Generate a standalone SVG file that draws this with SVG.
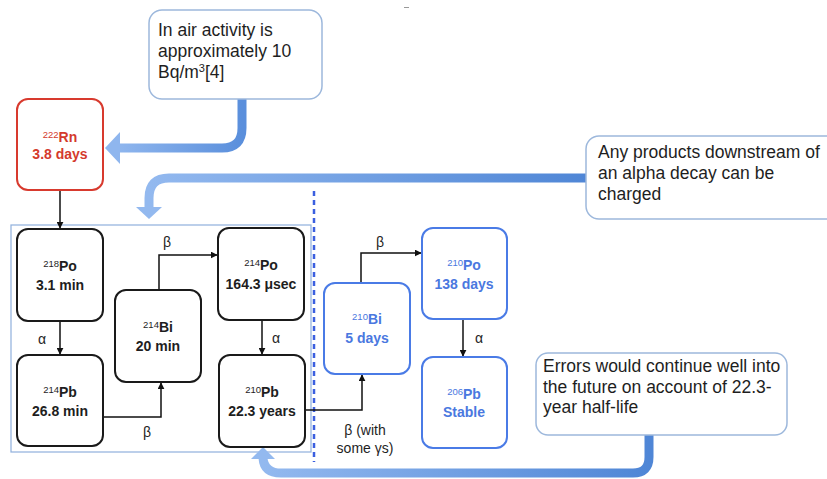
<svg xmlns="http://www.w3.org/2000/svg" width="827" height="479" viewBox="0 0 827 479">
<style>
text{font-family:"Liberation Sans",Arial,sans-serif;fill:#1e1e1e}
.nb{fill:#fff;stroke:#1a1a1a;stroke-width:2}
.nu{fill:#fff;stroke:#4a7be6;stroke-width:2}
.nr{fill:#fff;stroke:#d83a2e;stroke-width:2}
.nt{font-size:14px;font-weight:bold;text-anchor:middle}
.blue{fill:#4a78e0}
.red{fill:#d43a2c}
.sup{font-size:9.5px;font-weight:normal}
.co{fill:#fff;stroke:#9db8dc;stroke-width:1.5}
.ct{font-size:17.5px}
.ln{fill:none;stroke:#111;stroke-width:1.5}
.lb{font-size:14px;text-anchor:middle}
.big{fill:none;stroke-width:9}
</style>
<defs>
<marker id="ah" viewBox="0 0 10 10" refX="9" refY="5" markerWidth="7" markerHeight="7" markerUnits="userSpaceOnUse" orient="auto"><path d="M0,0 L10,5 L0,10 z" fill="#111"/></marker>
<linearGradient id="g1" x1="0" y1="0" x2="1" y2="0"><stop offset="0" stop-color="#8fb6ee"/><stop offset="1" stop-color="#5a8fdc"/></linearGradient>
<linearGradient id="g2" x1="0" y1="0" x2="1" y2="0"><stop offset="0" stop-color="#93b9ef"/><stop offset="1" stop-color="#4f86d6"/></linearGradient>
</defs>
<rect x="404" y="7" width="5" height="1" fill="#999"/>
<rect id="container" x="11" y="225" width="300" height="227" fill="none" stroke="#8fb0dc" stroke-width="1.2"/>
<line id="divider" x1="314" y1="191" x2="314" y2="462" stroke="#3b5fe0" stroke-width="2.5" stroke-dasharray="5,4"/>
<g id="connectors">
<line class="ln" x1="60" y1="190" x2="60" y2="228" marker-end="url(#ah)"/>
<line class="ln" x1="60" y1="321" x2="60" y2="354" marker-end="url(#ah)"/>
<path class="ln" d="M103 417 H161 V383" marker-end="url(#ah)"/>
<path class="ln" d="M159 290 V255 H217" marker-end="url(#ah)"/>
<line class="ln" x1="262" y1="320" x2="262" y2="354" marker-end="url(#ah)"/>
<path class="ln" d="M305 410 H362 V375" marker-end="url(#ah)"/>
<path class="ln" d="M361 283 V253 H421" marker-end="url(#ah)"/>
<line class="ln" x1="463" y1="319" x2="463" y2="356" marker-end="url(#ah)"/>
<text class="lb" x="42" y="344">α</text>
<text class="lb" x="147" y="437">β</text>
<text class="lb" x="167" y="247">β</text>
<text class="lb" x="276" y="343">α</text>
<text class="lb" x="380" y="247">β</text>
<text class="lb" x="479" y="343">α</text>
<text class="lb" x="365" y="435">β (with</text>
<text class="lb" x="365" y="453">some γs)</text>
<path class="big" stroke="url(#g1)" d="M242 99 V128 Q242 148 222 148 H118"/>
<polygon points="105,148 120,132 120,164" fill="#8fb6ee"/>
<path class="big" stroke="url(#g2)" stroke-width="8" d="M587 178 H169 Q149 178 149 198 V208"/>
<polygon points="136,207 162,207 149,219" fill="#93b9ef"/>
<path class="big" stroke="url(#g2)" stroke-width="8" d="M649 434 V457 Q649 473 633 473 H281 Q264 473 263 458"/>
<polygon points="251,459 275,459 263,447" fill="#93b9ef"/>
</g>
<g id="callout1"><rect class="co" x="149" y="10" width="173" height="89" rx="13"/>
<text class="ct" x="158" y="36">In air activity is</text>
<text class="ct" x="158" y="57">approximately 10</text>
<text class="ct" x="158" y="78">Bq/m<tspan font-size="11" dy="-6">3</tspan><tspan dy="6">[4]</tspan></text></g>
<g id="callout2"><rect class="co" x="586" y="136" width="260" height="83" rx="13"/>
<text class="ct" x="598" y="158">Any products downstream of</text>
<text class="ct" x="598" y="179">an alpha decay can be</text>
<text class="ct" x="598" y="200">charged</text></g>
<g id="callout3"><rect class="co" x="536" y="353" width="251" height="82" rx="12"/>
<text class="ct" x="543" y="372">Errors would continue well into</text>
<text class="ct" x="543" y="393">the future on account of 22.3-</text>
<text class="ct" x="543" y="413">year half-life</text></g>
<g id="rn222"><rect class="nr" x="17" y="99" width="86" height="91" rx="11"/>
<text class="nt red" x="60" y="142"><tspan class="sup" dy="-4">222</tspan><tspan dy="4">Rn</tspan></text>
<text class="nt red" x="60" y="159">3.8 days</text></g>
<g id="po218"><rect class="nb" x="17" y="229" width="86" height="92" rx="11"/>
<text class="nt" x="60" y="271"><tspan class="sup" dy="-4">218</tspan><tspan dy="4">Po</tspan></text>
<text class="nt" x="60" y="290">3.1 min</text></g>
<g id="pb214"><rect class="nb" x="17" y="355" width="86" height="91" rx="11"/>
<text class="nt" x="60" y="397"><tspan class="sup" dy="-4">214</tspan><tspan dy="4">Pb</tspan></text>
<text class="nt" x="60" y="416">26.8 min</text></g>
<g id="bi214"><rect class="nb" x="115" y="290" width="86" height="92" rx="11"/>
<text class="nt" x="158" y="332"><tspan class="sup" dy="-4">214</tspan><tspan dy="4">Bi</tspan></text>
<text class="nt" x="158" y="351">20 min</text></g>
<g id="po214"><rect class="nb" x="218" y="228" width="86" height="92" rx="11"/>
<text class="nt" x="261" y="270"><tspan class="sup" dy="-4">214</tspan><tspan dy="4">Po</tspan></text>
<text class="nt" x="261" y="289">164.3 μsec</text></g>
<g id="pb210"><rect class="nb" x="219" y="355" width="86" height="92" rx="11"/>
<text class="nt" x="262" y="397"><tspan class="sup" dy="-4">210</tspan><tspan dy="4">Pb</tspan></text>
<text class="nt" x="262" y="416">22.3 years</text></g>
<g id="bi210"><rect class="nu" x="324" y="283" width="86" height="91" rx="11"/>
<text class="nt blue" x="367" y="324"><tspan class="sup" dy="-4">210</tspan><tspan dy="4">Bi</tspan></text>
<text class="nt blue" x="367" y="343">5 days</text></g>
<g id="po210"><rect class="nu" x="422" y="228" width="85" height="91" rx="11"/>
<text class="nt blue" x="464" y="270"><tspan class="sup" dy="-4">210</tspan><tspan dy="4">Po</tspan></text>
<text class="nt blue" x="464" y="289">138 days</text></g>
<g id="pb206"><rect class="nu" x="422" y="357" width="85" height="91" rx="11"/>
<text class="nt blue" x="464" y="399"><tspan class="sup" dy="-4">206</tspan><tspan dy="4">Pb</tspan></text>
<text class="nt blue" x="464" y="417">Stable</text></g>
</svg>
